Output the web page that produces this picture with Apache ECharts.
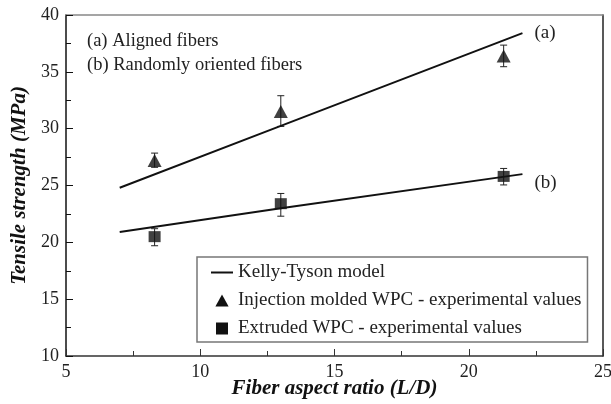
<!DOCTYPE html>
<html><head><meta charset="utf-8">
<script src="https://cdn.jsdelivr.net/npm/echarts@6/dist/echarts.min.js"></script>
<style>html,body{margin:0;padding:0;background:#fff}#c{width:611px;height:404px}</style>
</head><body><div id="c"></div>
<script>
// Data
const xTicks = [5, 10, 15, 20, 25];
const yTicks = [10, 15, 20, 25, 30, 35, 40];
const modelA_x = [7, 13, 22];
const modelA_y = [24.8, 30.25, 38.4];
const modelB_x = [7, 13, 22];
const modelB_y = [20.9, 23.0, 26.0];
const expX = [8.3, 13.0, 21.3];
const injY = [27.2, 31.5, 36.4];
const injLow = [26.6, 30.2, 35.45];
const injHigh = [27.85, 32.9, 37.35];
const extY = [20.5, 23.4, 25.8];
const extLow = [19.7, 22.3, 25.05];
const extHigh = [21.2, 24.3, 26.5];

const FONT = '"Liberation Serif", "Times New Roman", serif';
const pair = (xs, ys) => xs.map((x, i) => [x, ys[i]]);
const errData = (xs, lo, hi) => xs.map((x, i) => [x, lo[i], hi[i]]);
const TRI = 'path://M0,10 L5.5,0 L11,10 Z';
const SQ = 'path://M0,0 L10,0 L10,10 L0,10 Z';
const LN = 'path://M0,0 L22,0 L22,2 L0,2 Z';

function errRender(params, api) {
  const x = api.value(0);
  const p1 = api.coord([x, api.value(1)]);
  const p2 = api.coord([x, api.value(2)]);
  const w = 3.5;
  const st = { stroke: '#222', lineWidth: 1 };
  return { type: 'group', children: [
    { type: 'line', shape: { x1: p1[0], y1: p1[1], x2: p2[0], y2: p2[1] }, style: st },
    { type: 'line', shape: { x1: p1[0]-w, y1: p1[1], x2: p1[0]+w, y2: p1[1] }, style: st },
    { type: 'line', shape: { x1: p2[0]-w, y1: p2[1], x2: p2[0]+w, y2: p2[1] }, style: st }
  ]};
}

const chart = echarts.init(document.getElementById('c'), null, { renderer: 'canvas' });
const axisLabel = { fontFamily: FONT, fontSize: 18, color: '#222' };
chart.setOption({
  animation: false,
  grid: { left: 66, right: 8, top: 15, bottom: 48, outerBoundsMode: 'none', containLabel: false },
  xAxis: [{
    type: 'value', min: xTicks[0], max: xTicks[xTicks.length-1], interval: 5,
    axisLine: { lineStyle: { color: '#333', width: 1.5 } },
    axisTick: { inside: true, length: 7, lineStyle: { color: '#333' } },
    minorTick: { show: true, splitNumber: 2, length: 5, lineStyle: { color: '#333' } },
    splitLine: { show: false },
    axisLabel: Object.assign({ margin: 7 }, axisLabel),
    name: 'Fiber aspect ratio (L/D)', nameLocation: 'middle', nameGap: 22, nameMoveOverlap: false,
    nameTextStyle: { fontFamily: FONT, fontSize: 21, fontWeight: 'bold', fontStyle: 'italic', color: '#111' }
  }, {
    type: 'value', position: 'top', min: 5, max: 25,
    axisLine: { show: true, lineStyle: { color: '#888', width: 1.5 } },
    axisTick: { show: false }, axisLabel: { show: false }, splitLine: { show: false }
  }],
  yAxis: [{
    type: 'value', min: yTicks[0], max: yTicks[yTicks.length-1], interval: 5,
    axisLine: { show: true, lineStyle: { color: '#111', width: 1.5 } },
    axisTick: { show: true, inside: true, length: 7, lineStyle: { color: '#111' } },
    minorTick: { show: true, splitNumber: 2, length: 5, lineStyle: { color: '#111' } },
    splitLine: { show: false },
    axisLabel: Object.assign({ margin: 7 }, axisLabel),
    name: 'Tensile strength (MPa)', nameLocation: 'middle', nameGap: 36, nameMoveOverlap: false,
    nameTextStyle: { fontFamily: FONT, fontSize: 21, fontWeight: 'bold', fontStyle: 'italic', color: '#111' }
  }, {
    type: 'value', position: 'right', min: 10, max: 40,
    axisLine: { show: true, lineStyle: { color: '#222', width: 1.5 } },
    axisTick: { show: false }, axisLabel: { show: false }, splitLine: { show: false }
  }],
  legend: {
    orient: 'vertical', left: 197, top: 257,
    backgroundColor: '#fff', borderColor: '#777', borderWidth: 1.5,
    padding: [6, 6, 4, 14], itemGap: 9, itemWidth: 22, itemHeight: 12,
    textStyle: { fontFamily: FONT, fontSize: 19, color: '#222' },
    data: [
      { name: 'Kelly-Tyson model', icon: LN, itemStyle: { color: '#111' } },
      { name: 'Injection molded WPC - experimental values', icon: TRI, itemStyle: { color: '#111' } },
      { name: 'Extruded WPC - experimental values', icon: SQ, itemStyle: { color: '#111' } }
    ]
  },
  graphic: [
    { type: 'text', left: 87, top: 32, style: { text: '(a) Aligned fibers', font: '18.5px ' + FONT, fill: '#222' } },
    { type: 'text', left: 87, top: 56, style: { text: '(b) Randomly oriented fibers', font: '18.5px ' + FONT, fill: '#222' } }
  ],
  series: [
    { name: 'Kelly-Tyson model', type: 'line', data: pair(modelA_x, modelA_y), symbol: 'none',
      lineStyle: { color: '#111', width: 2 }, itemStyle: { color: '#111' },
      endLabel: { show: true, formatter: '(a)', distance: 12, fontFamily: FONT, fontSize: 19, color: '#222' } },
    { name: 'Kelly-Tyson model', type: 'line', data: pair(modelB_x, modelB_y), symbol: 'none',
      lineStyle: { color: '#111', width: 2 }, itemStyle: { color: '#111' },
      endLabel: { show: true, formatter: '(b)', distance: 12, offset: [0, 9], fontFamily: FONT, fontSize: 19, color: '#222' } },
    { name: 'Injection molded WPC - experimental values', type: 'custom', renderItem: errRender,
      itemStyle: { color: '#111' },
      data: errData(expX, injLow, injHigh), encode: { x: 0, y: [1, 2] }, z: 3 },
    { name: 'Extruded WPC - experimental values', type: 'custom', renderItem: errRender,
      itemStyle: { color: '#111' },
      data: errData(expX, extLow, extHigh), encode: { x: 0, y: [1, 2] }, z: 3 },
    { name: 'Injection molded WPC - experimental values', type: 'scatter', data: pair(expX, injY),
      symbol: TRI, symbolSize: [14, 13], itemStyle: { color: '#111' }, z: 4 },
    { name: 'Extruded WPC - experimental values', type: 'scatter', data: pair(expX, extY),
      symbol: 'rect', symbolSize: [12, 11], itemStyle: { color: '#111' }, z: 4 }
  ]
});
</script></body></html>
